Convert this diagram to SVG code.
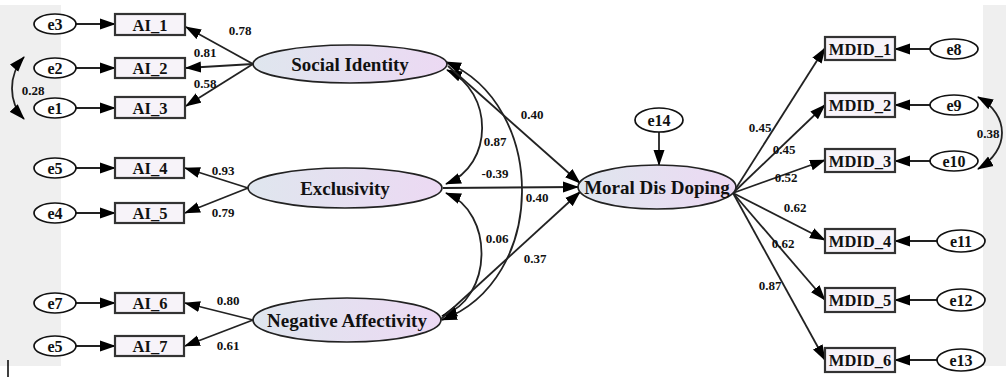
<svg xmlns="http://www.w3.org/2000/svg" width="1006" height="377" viewBox="0 0 1006 377" font-family="'Liberation Serif', 'Times New Roman', 'DejaVu Serif', serif">
<style>
.bg{fill:#efefef}
.obs{fill:#f7f3f9;stroke:#333;stroke-width:2.2}
.err{fill:#fff;stroke:#111;stroke-width:1.7}
.lat{fill:url(#lg);stroke:#222;stroke-width:1.7}
.ln{fill:none;stroke:#222;stroke-width:1.8}
.t{font-family:'Liberation Serif','Times New Roman',serif;font-weight:bold;fill:#111;text-anchor:middle}
.big{font-size:19px}
.box{font-size:16.5px}
.e{font-size:16px}
.n{font-size:13px}
</style>
<defs>
<linearGradient id="lg" x1="0" y1="0" x2="1" y2="0">
<stop offset="0" stop-color="#dfe6ee"/>
<stop offset="1" stop-color="#ecd9f3"/>
</linearGradient>
<marker id="ah" markerUnits="userSpaceOnUse" markerWidth="16" markerHeight="12" refX="15" refY="5.5" orient="auto-start-reverse" viewBox="0 0 16 11">
<path d="M0,0 L16,5.5 L0,11 z" fill="#000"/>
</marker>
</defs>
<rect class="bg" x="0" y="5" width="61" height="361"/>
<rect class="bg" x="983" y="5" width="23" height="361"/>
<line x1="8" y1="360" x2="8" y2="377" stroke="#000" stroke-width="1.5"/>

<g id="connectors">
<line class="ln" x1="76" y1="24" x2="115" y2="24" marker-end="url(#ah)"/>
<line class="ln" x1="76" y1="68" x2="115" y2="68" marker-end="url(#ah)"/>
<line class="ln" x1="76" y1="108" x2="115" y2="108" marker-end="url(#ah)"/>
<line class="ln" x1="76" y1="168" x2="115" y2="168" marker-end="url(#ah)"/>
<line class="ln" x1="76" y1="213" x2="115" y2="213" marker-end="url(#ah)"/>
<line class="ln" x1="76" y1="303" x2="115" y2="303" marker-end="url(#ah)"/>
<line class="ln" x1="76" y1="346" x2="115" y2="346" marker-end="url(#ah)"/>
<line class="ln" x1="253" y1="64" x2="186" y2="27" marker-end="url(#ah)"/>
<line class="ln" x1="253" y1="64" x2="186" y2="68" marker-end="url(#ah)"/>
<line class="ln" x1="253" y1="64" x2="186" y2="106" marker-end="url(#ah)"/>
<line class="ln" x1="248" y1="188" x2="185" y2="168" marker-end="url(#ah)"/>
<line class="ln" x1="248" y1="188" x2="185" y2="213" marker-end="url(#ah)"/>
<line class="ln" x1="253" y1="320" x2="185" y2="303" marker-end="url(#ah)"/>
<line class="ln" x1="253" y1="320" x2="185" y2="346" marker-end="url(#ah)"/>
<path class="ln" d="M24,57 C8,75 8,102 24,119" marker-start="url(#ah)" marker-end="url(#ah)"/>
<path class="ln" d="M978,97 C1010,115 1010,150 978,169" marker-start="url(#ah)" marker-end="url(#ah)"/>
<path class="ln" d="M447,70 C494,92 494,165 446,184" marker-start="url(#ah)" marker-end="url(#ah)"/>
<path class="ln" d="M446,193 C494,212 494,298 442,316" marker-start="url(#ah)" marker-end="url(#ah)"/>
<path class="ln" d="M446,62 C548,105 548,280 442,320" marker-start="url(#ah)" marker-end="url(#ah)"/>
<line class="ln" x1="448" y1="66" x2="580" y2="183" marker-end="url(#ah)"/>
<line class="ln" x1="443" y1="188" x2="578" y2="187" marker-end="url(#ah)"/>
<line class="ln" x1="440" y1="320" x2="580" y2="192" marker-end="url(#ah)"/>
<line class="ln" x1="659" y1="132" x2="659" y2="165" marker-end="url(#ah)"/>
<line class="ln" x1="733" y1="193" x2="825" y2="48" marker-end="url(#ah)"/>
<line class="ln" x1="733" y1="193" x2="825" y2="105" marker-end="url(#ah)"/>
<line class="ln" x1="733" y1="193" x2="825" y2="160" marker-end="url(#ah)"/>
<line class="ln" x1="733" y1="193" x2="825" y2="240" marker-end="url(#ah)"/>
<line class="ln" x1="733" y1="193" x2="825" y2="300" marker-end="url(#ah)"/>
<line class="ln" x1="733" y1="193" x2="825" y2="360" marker-end="url(#ah)"/>
<line class="ln" x1="930" y1="49" x2="895" y2="49" marker-end="url(#ah)"/>
<line class="ln" x1="930" y1="105" x2="895" y2="105" marker-end="url(#ah)"/>
<line class="ln" x1="930" y1="161" x2="895" y2="161" marker-end="url(#ah)"/>
<line class="ln" x1="937" y1="241" x2="895" y2="241" marker-end="url(#ah)"/>
<line class="ln" x1="937" y1="300" x2="895" y2="300" marker-end="url(#ah)"/>
<line class="ln" x1="937" y1="360" x2="895" y2="360" marker-end="url(#ah)"/>
<text class="t n" x="240" y="35">0.78</text>
<text class="t n" x="205" y="57">0.81</text>
<text class="t n" x="205" y="88">0.58</text>
<text class="t n" x="33" y="95">0.28</text>
<text class="t n" x="223" y="175">0.93</text>
<text class="t n" x="223" y="217">0.79</text>
<text class="t n" x="228" y="305">0.80</text>
<text class="t n" x="228" y="350">0.61</text>
<text class="t n" x="532" y="119">0.40</text>
<text class="t n" x="495" y="146">0.87</text>
<text class="t n" x="495" y="178">-0.39</text>
<text class="t n" x="537" y="202">0.40</text>
<text class="t n" x="497" y="243">0.06</text>
<text class="t n" x="535" y="263">0.37</text>
<text class="t n" x="760" y="132">0.45</text>
<text class="t n" x="784" y="154">0.45</text>
<text class="t n" x="786" y="182">0.52</text>
<text class="t n" x="795" y="212">0.62</text>
<text class="t n" x="783" y="248">0.62</text>
<text class="t n" x="770" y="290">0.87</text>
<text class="t n" x="988" y="138">0.38</text>
</g>

<g id="e3"><ellipse class="err" cx="55" cy="24" rx="21" ry="10"/><text class="t e" x="55" y="29.5">e3</text></g>
<g id="e2"><ellipse class="err" cx="55" cy="68" rx="21" ry="10"/><text class="t e" x="55" y="73.5">e2</text></g>
<g id="e1"><ellipse class="err" cx="55" cy="108" rx="21" ry="10"/><text class="t e" x="55" y="113.5">e1</text></g>
<g id="e5a"><ellipse class="err" cx="55" cy="168" rx="21" ry="10"/><text class="t e" x="55" y="173.5">e5</text></g>
<g id="e4"><ellipse class="err" cx="55" cy="213" rx="21" ry="10"/><text class="t e" x="55" y="218.5">e4</text></g>
<g id="e7"><ellipse class="err" cx="55" cy="303" rx="21" ry="10"/><text class="t e" x="55" y="308.5">e7</text></g>
<g id="e5b"><ellipse class="err" cx="55" cy="346" rx="21" ry="10"/><text class="t e" x="55" y="351.5">e5</text></g>

<g id="AI_1"><rect class="obs" x="115" y="14" width="70" height="21"/><text class="t box" x="150" y="30.5">AI_1</text></g>
<g id="AI_2"><rect class="obs" x="115" y="58" width="70" height="20"/><text class="t box" x="150" y="74">AI_2</text></g>
<g id="AI_3"><rect class="obs" x="115" y="97" width="70" height="21"/><text class="t box" x="150" y="113.5">AI_3</text></g>
<g id="AI_4"><rect class="obs" x="115" y="158" width="69" height="20"/><text class="t box" x="150" y="174">AI_4</text></g>
<g id="AI_5"><rect class="obs" x="115" y="203" width="69" height="20"/><text class="t box" x="150" y="219">AI_5</text></g>
<g id="AI_6"><rect class="obs" x="115" y="293" width="69" height="20"/><text class="t box" x="150" y="309">AI_6</text></g>
<g id="AI_7"><rect class="obs" x="115" y="336" width="69" height="20"/><text class="t box" x="150" y="352">AI_7</text></g>

<g id="SocialIdentity"><ellipse class="lat" cx="350" cy="64" rx="97" ry="19"/><text class="t big" x="350" y="70.5">Social Identity</text></g>
<g id="Exclusivity"><ellipse class="lat" cx="345" cy="188" rx="97" ry="20"/><text class="t big" x="345" y="194.5">Exclusivity</text></g>
<g id="NegativeAffectivity"><ellipse class="lat" cx="347" cy="320" rx="94" ry="22"/><text class="t big" x="347" y="326.5">Negative Affectivity</text></g>
<g id="MoralDisDoping"><ellipse class="lat" cx="657" cy="187" rx="79" ry="22"/><text class="t big" x="657" y="193.5">Moral Dis Doping</text></g>
<g id="e14"><ellipse class="err" cx="659" cy="120" rx="24" ry="12"/><text class="t e" x="659" y="125.5">e14</text></g>

<g id="MDID_1"><rect class="obs" x="825" y="37" width="70" height="23"/><text class="t box" x="860" y="54.5">MDID_1</text></g>
<g id="MDID_2"><rect class="obs" x="825" y="93" width="70" height="24"/><text class="t box" x="860" y="111">MDID_2</text></g>
<g id="MDID_3"><rect class="obs" x="825" y="149" width="70" height="23"/><text class="t box" x="860" y="166.5">MDID_3</text></g>
<g id="MDID_4"><rect class="obs" x="825" y="229" width="70" height="24"/><text class="t box" x="860" y="247">MDID_4</text></g>
<g id="MDID_5"><rect class="obs" x="825" y="288" width="70" height="24"/><text class="t box" x="860" y="306">MDID_5</text></g>
<g id="MDID_6"><rect class="obs" x="825" y="348" width="70" height="24"/><text class="t box" x="860" y="366">MDID_6</text></g>

<g id="e8"><ellipse class="err" cx="954" cy="49" rx="24" ry="10"/><text class="t e" x="954" y="54.5">e8</text></g>
<g id="e9"><ellipse class="err" cx="954" cy="105" rx="24" ry="10"/><text class="t e" x="954" y="110.5">e9</text></g>
<g id="e10"><ellipse class="err" cx="954" cy="161" rx="24" ry="10"/><text class="t e" x="954" y="166.5">e10</text></g>
<g id="e11"><ellipse class="err" cx="961" cy="241" rx="24" ry="11"/><text class="t e" x="961" y="246.5">e11</text></g>
<g id="e12"><ellipse class="err" cx="961" cy="300" rx="24" ry="11"/><text class="t e" x="961" y="305.5">e12</text></g>
<g id="e13"><ellipse class="err" cx="961" cy="360" rx="24" ry="11"/><text class="t e" x="961" y="365.5">e13</text></g>
</svg>
